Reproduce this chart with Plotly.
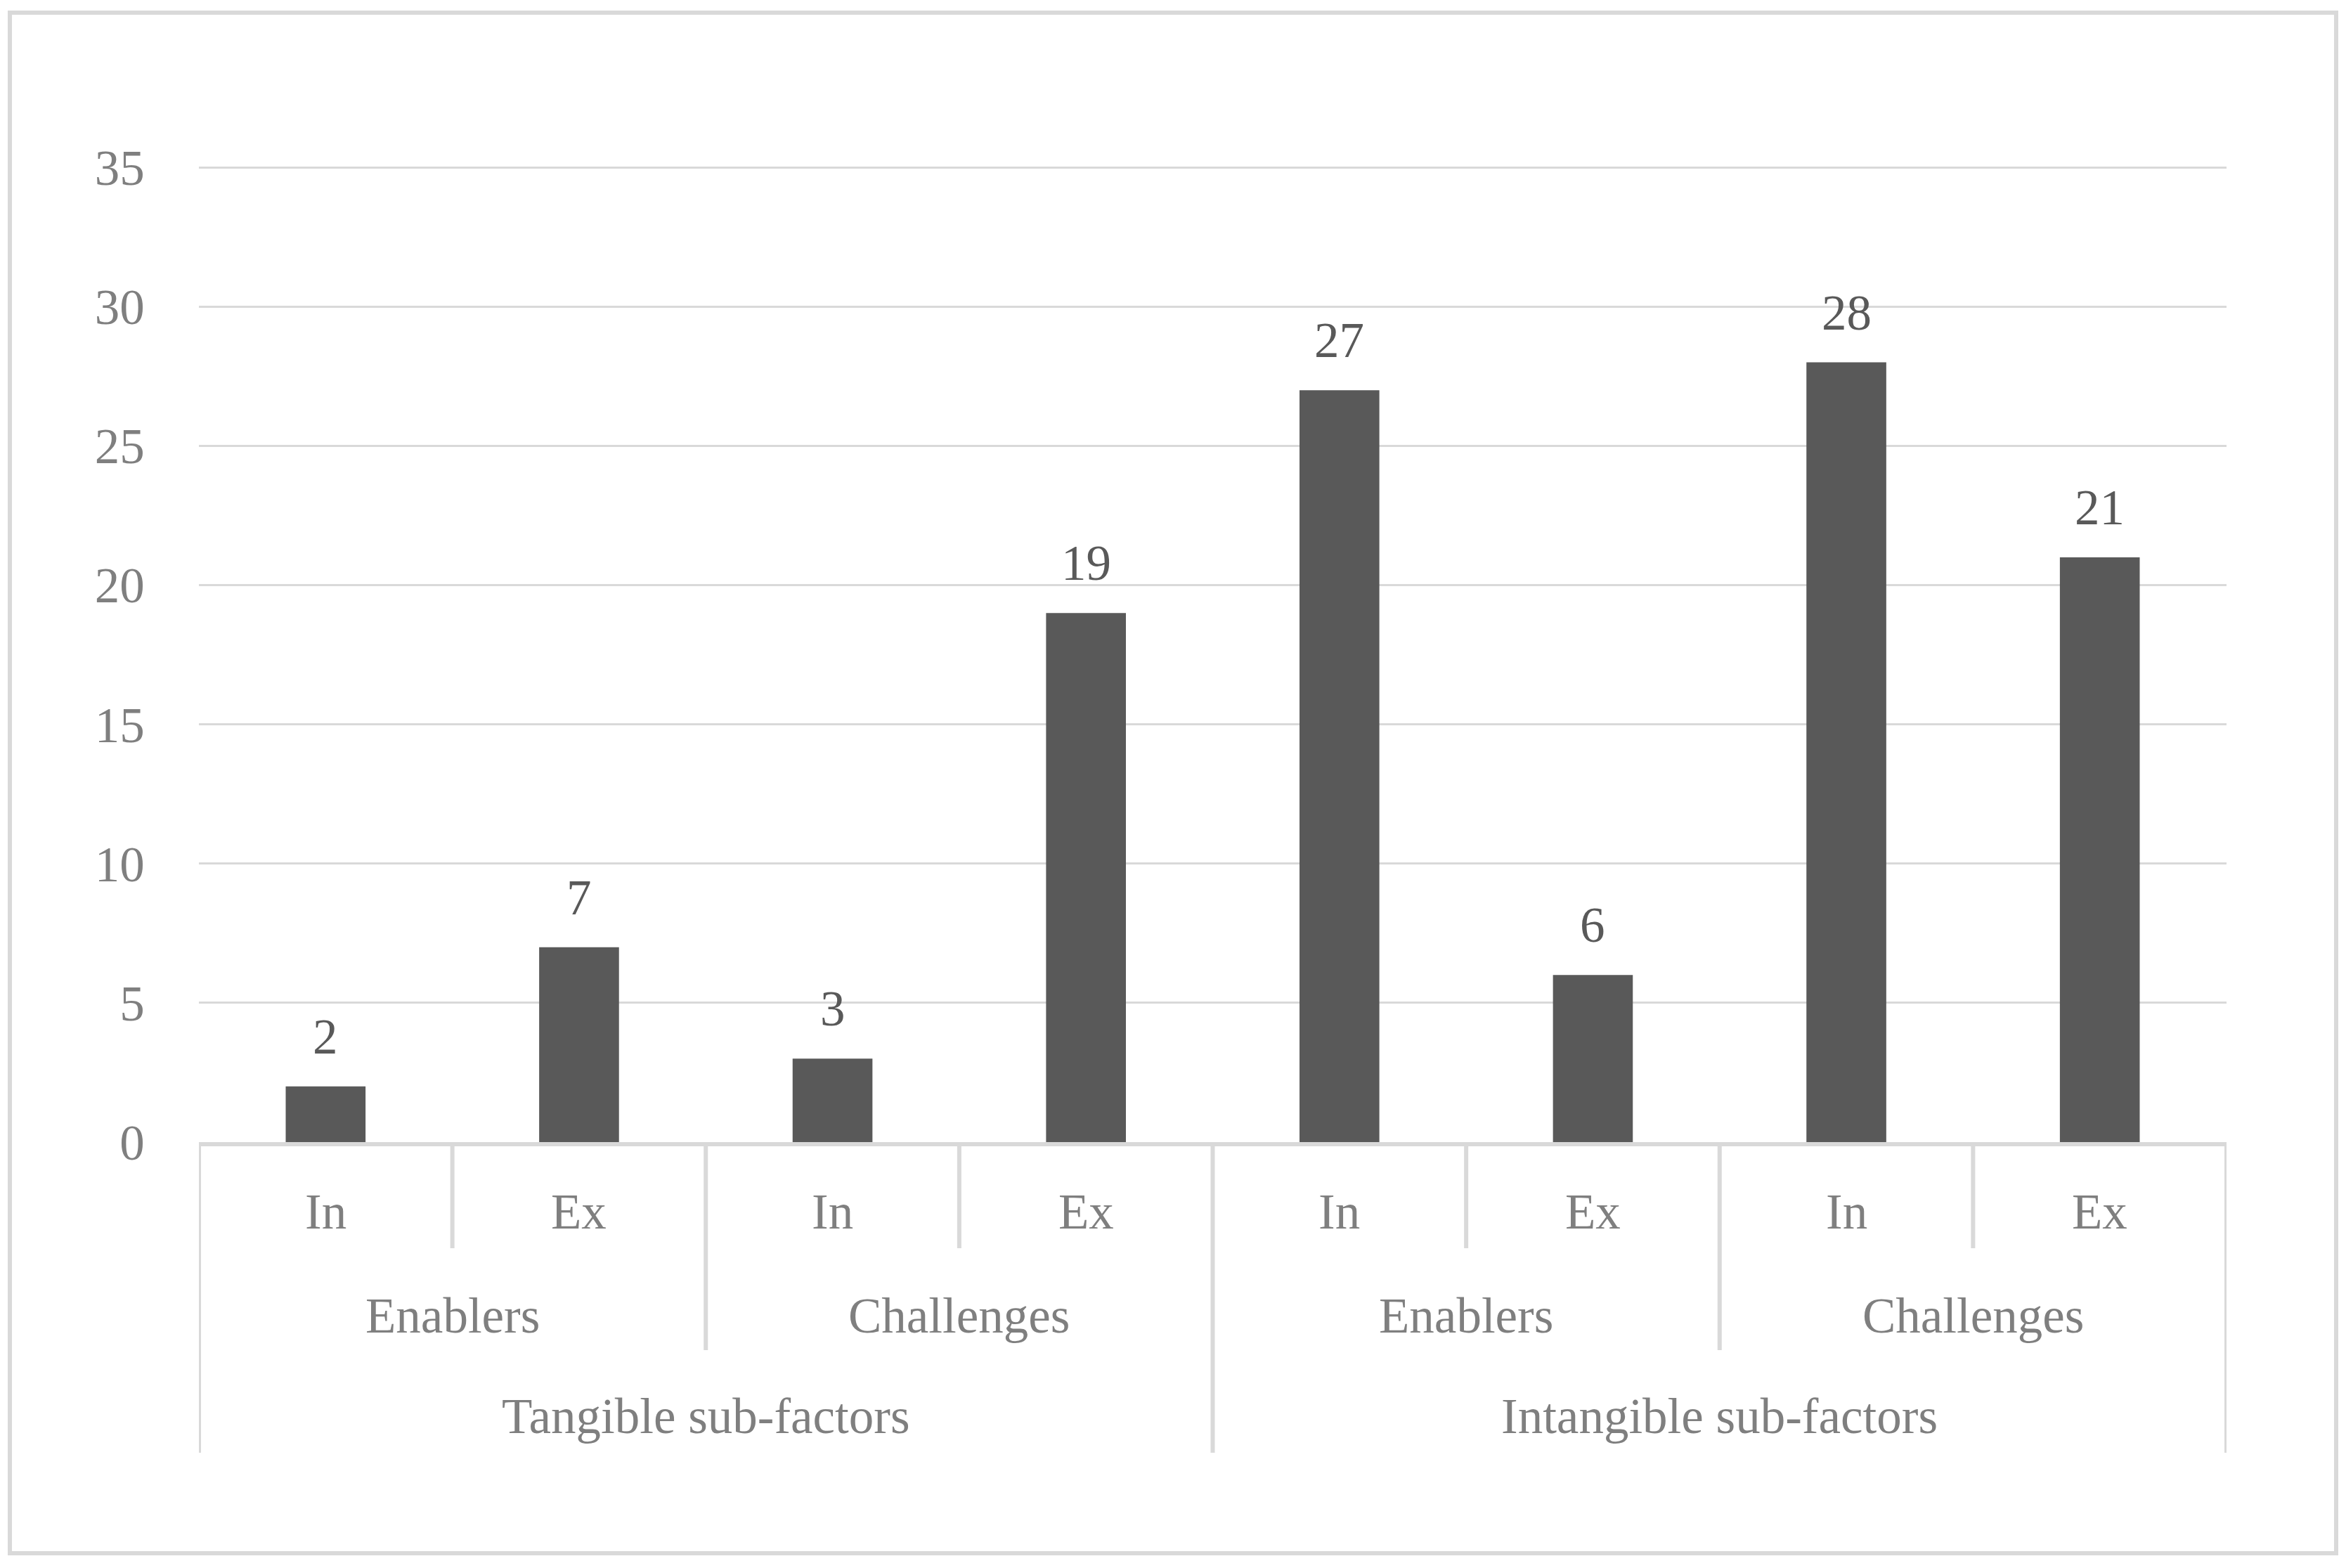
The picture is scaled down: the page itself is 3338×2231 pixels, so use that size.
import plotly.graph_objects as go

# ---- data ----
level1 = ["In", "Ex", "In", "Ex", "In", "Ex", "In", "Ex"]
level2 = ["Enablers", "Enablers", "Challenges", "Challenges",
          "Enablers", "Enablers", "Challenges", "Challenges"]
level3 = ["Tangible sub-factors"] * 4 + ["Intangible sub-factors"] * 4
values = [2, 7, 3, 19, 27, 6, 28, 21]
y_ticks = [0, 5, 10, 15, 20, 25, 30, 35]

# ---- geometry (pixels, in screenshot coordinates; page body has 8px margin) ----
OFF = 8
W, H = 3338 - OFF, 2231 - OFF
PLOT_L, PLOT_R, PLOT_T, PLOT_B = 283, 3168, 237, 1625   # target screen coords
L = PLOT_L - OFF
T = PLOT_T - OFF
PW = PLOT_R - PLOT_L
PH = PLOT_B - PLOT_T
R = W - L - PW
B = H - T - PH

def px_x(p):
    return (p - PLOT_L) / PW

def px_y(p):
    return (PLOT_B - p) / PH

GRID = "#d9d9d9"
TXT = "#7f7f7f"
LBL = "#595959"
FONT = "Liberation Serif"
FS = 71

xs = list(range(len(values)))

fig = go.Figure()
fig.add_trace(go.Bar(x=xs, y=values, marker=dict(color="#595959", line=dict(width=0)),
                     width=0.315, hoverinfo="skip"))

annotations = []
shapes = []

# data labels
for x, v in zip(xs, values):
    annotations.append(dict(x=x, y=v, xref="x", yref="y", text=str(v), showarrow=False,
                            yanchor="middle", yshift=71,
                            font=dict(family=FONT, size=FS, color=LBL)))

def groups(labels, keyfunc):
    out = []
    start = 0
    for i in range(1, len(labels) + 1):
        if i == len(labels) or keyfunc(i) != keyfunc(start):
            out.append((labels[start], start, i - 1))
            start = i
    return out

g1 = [(lab, i, i) for i, lab in enumerate(level1)]
g2 = groups(level2, lambda i: (level3[i], level2[i]))
g3 = groups(level3, lambda i: level3[i])

rows = [(g1, px_y(1724), px_y(1776)), (g2, px_y(1872), px_y(1921)), (g3, px_y(2015), px_y(2067))]

bounds = {}
for grp, ylab, ybot in rows:
    for lab, a, b in grp:
        annotations.append(dict(x=(a + b) / 2, y=ylab, xref="x", yref="paper", text=lab,
                                showarrow=False, yanchor="middle",
                                font=dict(family=FONT, size=FS, color=TXT)))
        for edge in (a - 0.5, b + 0.5):
            bounds[edge] = ybot  # deeper level overrides

for edge, ybot in bounds.items():
    shapes.append(dict(type="line", xref="x", yref="paper", x0=edge, x1=edge, y0=0, y1=ybot,
                       line=dict(color=GRID, width=6), layer="below"))

# outer border
shapes.append(dict(type="rect", xref="paper", yref="paper",
                   x0=px_x(14), x1=px_x(3324), y0=px_y(2210), y1=px_y(18),
                   line=dict(color=GRID, width=6), fillcolor="rgba(0,0,0,0)", layer="below"))

fig.update_layout(
    width=W, height=H,
    margin=dict(l=L, r=R, t=T, b=B),
    paper_bgcolor="white", plot_bgcolor="white",
    showlegend=False,
    annotations=annotations,
    shapes=shapes,
    xaxis=dict(range=[-0.5, len(values) - 0.5], showticklabels=False, showgrid=False,
               zeroline=False, showline=True, linecolor=GRID, linewidth=6, ticks=""),
    yaxis=dict(range=[0, 35.03], tickvals=y_ticks, showgrid=True, gridcolor=GRID, gridwidth=2.5,
               zeroline=False, showline=False, ticks="outside", ticklen=62,
               tickcolor="rgba(0,0,0,0)",
               tickfont=dict(family=FONT, size=FS, color=TXT)),
)

fig.write_html("out.html")
